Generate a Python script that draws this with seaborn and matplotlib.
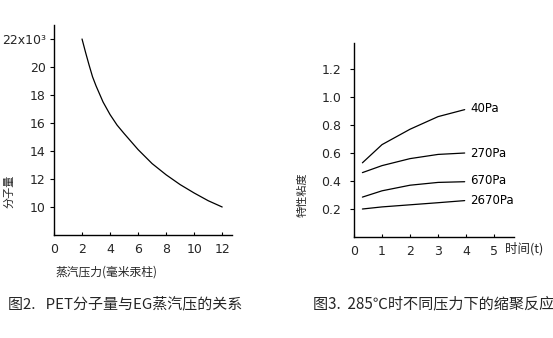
import matplotlib
matplotlib.use("Agg")
import matplotlib.pyplot as plt
import seaborn as sns
import pandas as pd

# Fig.2: molecular weight vs. EG vapour pressure
pressure_mmhg = [2, 2.25, 2.5, 2.75, 3, 3.5, 4, 4.5, 5, 6, 7, 8, 9, 10, 11, 12]
mol_weight_k = [22.0, 21.05, 20.15, 19.3, 18.65, 17.5, 16.6, 15.85, 15.25,
                14.1, 13.1, 12.3, 11.6, 11.0, 10.45, 10.0]
mw_yticks = [10, 12, 14, 16, 18, 20, 22]
mw_yticklabels = ["10", "12", "14", "16", "18", "20", "22x10³"]
p_xticks = [0, 2, 4, 6, 8, 10, 12]

# Fig.3: intrinsic viscosity vs. time at 285 °C for several pressures
time_t = [0.3, 1.0, 2.0, 3.0, 3.95]
series_names = ["40Pa", "270Pa", "670Pa", "2670Pa"]
visc_40 = [0.53, 0.66, 0.77, 0.86, 0.91]
visc_270 = [0.46, 0.51, 0.56, 0.59, 0.60]
visc_670 = [0.285, 0.33, 0.37, 0.39, 0.395]
visc_2670 = [0.20, 0.215, 0.23, 0.245, 0.26]
v_yticks = [0.2, 0.4, 0.6, 0.8, 1.0, 1.2]
v_yticklabels = ["0.2", "0.4", "0.6", "0.8", "1.0", "1.2"]
t_xticks = [0, 1, 2, 3, 4, 5]

sns.set_theme(style="white")
plt.rcParams["font.family"] = ["DejaVu Sans", "Noto Sans CJK SC"]
cjk = ["Noto Sans CJK SC", "DejaVu Sans"]

fig = plt.figure(figsize=(5.53, 3.38), dpi=100)

# ---- left panel ----
ax1 = fig.add_axes([54 / 553, 1 - 235 / 338, 178 / 553, 210 / 338])
df1 = pd.DataFrame({"p": pressure_mmhg, "mw": mol_weight_k})
sns.lineplot(data=df1, x="p", y="mw", ax=ax1, color="black", linewidth=0.9)
ax1.set_xlim(0, 12.7)
ax1.set_ylim(8, 23)
ax1.set_xticks(p_xticks)
ax1.set_xticklabels([str(v) for v in p_xticks])
ax1.set_yticks(mw_yticks)
ax1.set_yticklabels(mw_yticklabels)
ax1.set_xlabel("")
ax1.set_ylabel("")

# ---- right panel ----
ax2 = fig.add_axes([354 / 553, 1 - 237 / 338, 160 / 553, 194 / 338])
df2 = pd.DataFrame({
    "t": time_t * 4,
    "visc": visc_40 + visc_270 + visc_670 + visc_2670,
    "p": sum([[n] * len(time_t) for n in series_names], []),
})
sns.lineplot(data=df2, x="t", y="visc", hue="p", units="p", estimator=None,
             palette=["black"] * 4, ax=ax2, linewidth=0.9, legend=False)
ax2.set_xlim(0, 5.71)
ax2.set_ylim(0, 1.386)
ax2.set_xticks(t_xticks)
ax2.set_xticklabels([str(v) for v in t_xticks])
ax2.set_yticks(v_yticks)
ax2.set_yticklabels(v_yticklabels)
ax2.set_xlabel("")
ax2.set_ylabel("")

label_offsets = {"40Pa": 0.01, "270Pa": 0.0, "670Pa": 0.012, "2670Pa": 0.0}
for name, vals in zip(series_names, [visc_40, visc_270, visc_670, visc_2670]):
    ax2.text(time_t[-1] + 0.2, vals[-1] + label_offsets[name], name,
             fontsize=8.5, va="center", ha="left", color="black")

for ax in (ax1, ax2):
    for side in ("top", "right"):
        ax.spines[side].set_visible(False)
    for side in ("left", "bottom"):
        ax.spines[side].set_color("black")
        ax.spines[side].set_linewidth(1.0)
    ax.tick_params(axis="y", direction="out", length=3, width=0.8, pad=3,
                   labelsize=9, color="black", left=True)
    ax.tick_params(axis="x", direction="in", length=2.5, width=0.8, pad=6,
                   labelsize=9, color="black", bottom=True)
ax2.tick_params(axis="y", pad=6)

# axis titles and captions
fig.text(9 / 553, 1 - 191 / 338, "分子量", rotation=90, fontsize=8,
         family=cjk, ha="center", va="center")
fig.text(106 / 553, 1 - 272 / 338, "蒸汽压力(毫米汞柱)", fontsize=8.5,
         family=cjk, ha="center", va="center")
fig.text(302 / 553, 1 - 195 / 338, "特性粘度", rotation=90, fontsize=8,
         family=cjk, ha="center", va="center")
fig.text(505 / 553, 1 - 249 / 338, "时间(t)", fontsize=9,
         family=cjk, ha="left", va="center")
fig.text(8 / 553, 1 - 304 / 338, "图2.   PET分子量与EG蒸汽压的关系", fontsize=10.8,
         family=cjk, ha="left", va="center")
fig.text(313 / 553, 1 - 304 / 338, "图3.  285℃时不同压力下的缩聚反应", fontsize=10.9,
         family=cjk, ha="left", va="center")

fig.savefig("out.png", dpi=100)
